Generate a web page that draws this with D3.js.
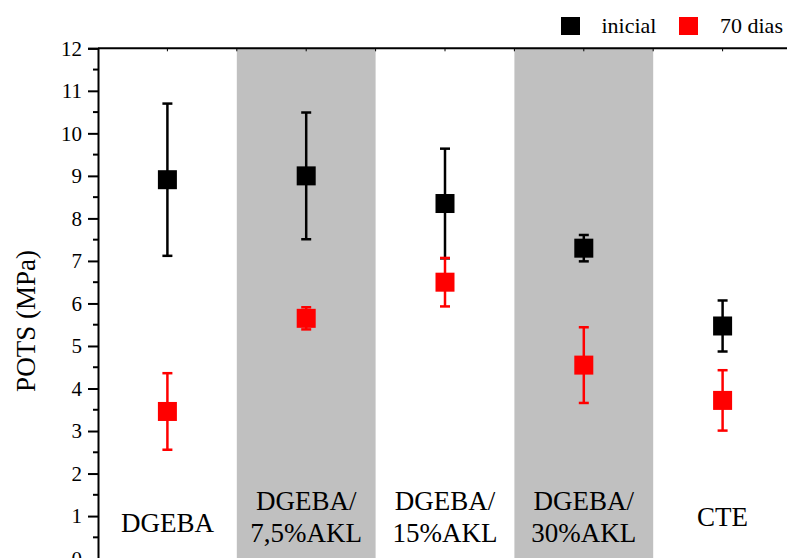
<!DOCTYPE html>
<html>
<head>
<meta charset="utf-8">
<script src="https://cdn.jsdelivr.net/npm/d3@7"></script>
</head>
<body style="margin:0">
<svg id="chart" width="787" height="558" style="display:block" font-family="Liberation Serif"></svg>
<script>
// Sample groups (positions 1..5 on the x axis)
const categories = [
  ["DGEBA"],
  ["DGEBA/", "7,5%AKL"],
  ["DGEBA/", "15%AKL"],
  ["DGEBA/", "30%AKL"],
  ["CTE"]
];
// Pull-off tensile strength (MPa): mean and standard deviation
const inicialMean = [8.91, 9.00, 8.35, 7.30, 5.47];
const inicialErr  = [1.79, 1.49, 1.29, 0.31, 0.60];
const dias70Mean  = [3.46, 5.65, 6.50, 4.55, 3.72];
const dias70Err   = [0.90, 0.26, 0.57, 0.89, 0.71];
const seriesNames = ["inicial", "70 dias"];
const yTicks = [0, 1, 2, 3, 4, 5, 6, 7, 8, 9, 10, 11, 12];
const shadedGroups = [2, 4];

const svg = d3.select("#chart");
const x = d3.scaleLinear().domain([0.5, 5.5]).range([98, 792]);
const y = d3.scaleLinear().domain([0, 12]).range([558.6, 48.3]);
const step = x(2) - x(1);

// Alternating grey bands
svg.append("g").selectAll("rect")
  .data(shadedGroups)
  .join("rect")
  .attr("x", d => x(d - 0.5))
  .attr("width", step)
  .attr("y", y(12))
  .attr("height", y(0) - y(12) + 20)
  .attr("fill", "#c0c0c0");

// Left axis with minor half-unit ticks
const yAxis = svg.append("g")
  .attr("transform", `translate(${x(0.5)},0)`)
  .call(d3.axisLeft(y).tickValues(yTicks).tickSize(10).tickPadding(6).tickFormat(d3.format("d")));
yAxis.attr("font-family", "Liberation Serif").attr("font-size", 21);
yAxis.select(".domain").attr("stroke", "#000").attr("stroke-width", 2);
yAxis.selectAll(".tick line").attr("stroke", "#000").attr("stroke-width", 2);
yAxis.selectAll(".tick text").attr("fill", "#000");

const minor = d3.range(0.5, 12, 1);
svg.append("g").selectAll("line")
  .data(minor)
  .join("line")
  .attr("x1", x(0.5) - 5).attr("x2", x(0.5))
  .attr("y1", d => y(d)).attr("y2", d => y(d))
  .attr("stroke", "#000").attr("stroke-width", 2);

// Top frame line with small inward ticks
svg.append("line")
  .attr("x1", x(0.5)).attr("x2", 787)
  .attr("y1", y(12)).attr("y2", y(12))
  .attr("stroke", "#000").attr("stroke-width", 2);
svg.append("g").selectAll("line")
  .data(d3.range(1, 5.6, 0.5))
  .join("line")
  .attr("x1", d => x(d)).attr("x2", d => x(d))
  .attr("y1", y(12)).attr("y2", y(12) + 3)
  .attr("stroke", "#000").attr("stroke-width", 1);

// Y axis title
svg.selectAll(".ytitle").data(["POTS (MPa)"]).join("text")
  .attr("class", "ytitle")
  .attr("transform", `translate(35,321) rotate(-90)`)
  .attr("text-anchor", "middle")
  .attr("font-size", 27)
  .attr("fill", "#000")
  .style("font-family", () => '"Liberation Serif"')
  .text(d => d);

// Category labels inside the plot
const labelRows = [];
categories.forEach((lines, i) => {
  const base = lines.length === 2 ? 509.5 : (i === 0 ? 531.7 : 526);
  lines.forEach((t, j) => labelRows.push({ t, pos: i + 1, yy: base + j * 32.4 }));
});
svg.selectAll(".cat").data(labelRows).join("text")
  .attr("class", "cat")
  .attr("x", d => x(d.pos))
  .attr("y", d => d.yy)
  .attr("text-anchor", "middle")
  .attr("font-size", 27)
  .attr("fill", "#000")
  .style("font-family", () => '"Liberation Serif"')
  .text(d => d.t);

// Error bars and square markers
function drawSeries(means, errs, color) {
  const g = svg.append("g");
  const data = means.map((m, i) => ({ pos: i + 1, m, e: errs[i] }));
  const cap = 5;
  g.selectAll(".stem").data(data).join("line")
    .attr("x1", d => x(d.pos)).attr("x2", d => x(d.pos))
    .attr("y1", d => y(d.m + d.e)).attr("y2", d => y(d.m - d.e))
    .attr("stroke", color).attr("stroke-width", 2.5);
  g.selectAll(".capTop").data(data).join("line")
    .attr("x1", d => x(d.pos) - cap).attr("x2", d => x(d.pos) + cap)
    .attr("y1", d => y(d.m + d.e)).attr("y2", d => y(d.m + d.e))
    .attr("stroke", color).attr("stroke-width", 2.5);
  g.selectAll(".capBot").data(data).join("line")
    .attr("x1", d => x(d.pos) - cap).attr("x2", d => x(d.pos) + cap)
    .attr("y1", d => y(d.m - d.e)).attr("y2", d => y(d.m - d.e))
    .attr("stroke", color).attr("stroke-width", 2.5);
  const s = 19;
  g.selectAll("rect").data(data).join("rect")
    .attr("x", d => x(d.pos) - s / 2)
    .attr("y", d => y(d.m) - s / 2)
    .attr("width", s).attr("height", s)
    .attr("fill", color);
}
drawSeries(inicialMean, inicialErr, "#000000");
drawSeries(dias70Mean, dias70Err, "#ff0000");

// Legend
const legendItems = [
  { name: seriesNames[0], color: "#000000", sx: 561, tx: 601.5 },
  { name: seriesNames[1], color: "#ff0000", sx: 679, tx: 720 }
];
svg.selectAll(".legsym").data(legendItems).join("rect")
  .attr("class", "legsym")
  .attr("x", d => d.sx).attr("y", 17).attr("width", 19).attr("height", 18)
  .attr("fill", d => d.color);
svg.selectAll(".legtxt").data(legendItems).join("text")
  .attr("class", "legtxt")
  .attr("x", d => d.tx).attr("y", 33.3)
  .attr("font-size", 22).attr("fill", "#000")
  .style("font-family", () => '"Liberation Serif"')
  .text(d => d.name);
</script>
</body>
</html>
